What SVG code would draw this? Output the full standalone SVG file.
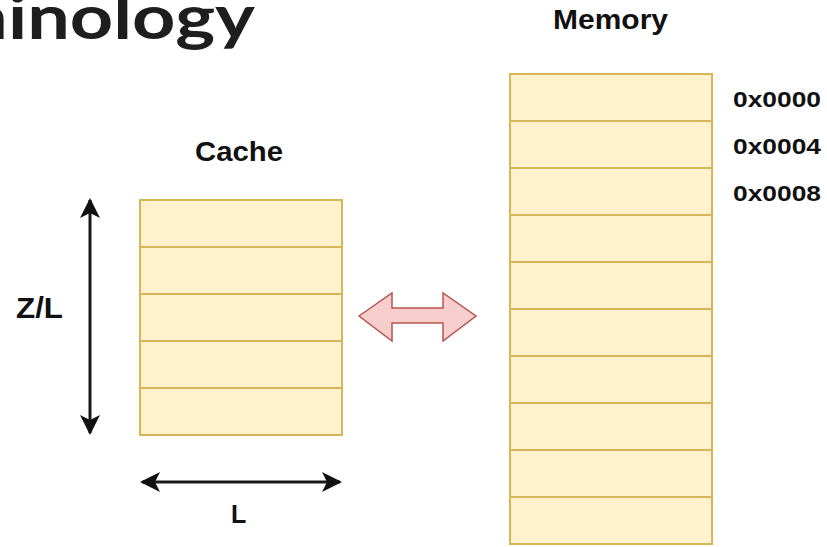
<svg xmlns="http://www.w3.org/2000/svg" width="827" height="547" viewBox="0 0 827 547">
<style>
.lbl{font-family:"Liberation Sans",Arial,sans-serif;font-weight:bold;fill:#111}
.cell{fill:#fff2cc;stroke:#d6b656;stroke-width:2}
.dim{stroke:#1a1a1a;stroke-width:3;fill:none}
</style>
<defs>
<marker id="ah" viewBox="0 0 20 20" refX="18" refY="10" markerWidth="20" markerHeight="20" markerUnits="userSpaceOnUse" orient="auto-start-reverse">
<path d="M0,0 L20,10 L0,20 L5,10 Z" fill="#111"/>
</marker>
</defs>
<rect width="827" height="547" fill="#fff"/>
<g id="title">
<text transform="translate(255,39) scale(1.22,1)" text-anchor="end" style="font-family:Lato,'Open Sans',sans-serif;font-weight:bold" font-size="62" fill="#1e1e1e">Terminology</text>
</g>
<g id="cache">
<text class="lbl" x="195" y="161" font-size="27" textLength="88" lengthAdjust="spacingAndGlyphs">Cache</text>
<rect class="cell" x="140" y="200" width="202" height="47"/>
<rect class="cell" x="140" y="247" width="202" height="47"/>
<rect class="cell" x="140" y="294" width="202" height="47"/>
<rect class="cell" x="140" y="341" width="202" height="47"/>
<rect class="cell" x="140" y="388" width="202" height="47"/>
</g>
<g id="memory">
<text class="lbl" x="553" y="29" font-size="27" textLength="115" lengthAdjust="spacingAndGlyphs">Memory</text>
<rect class="cell" x="510" y="74" width="202" height="47"/>
<rect class="cell" x="510" y="121" width="202" height="47"/>
<rect class="cell" x="510" y="168" width="202" height="47"/>
<rect class="cell" x="510" y="215" width="202" height="47"/>
<rect class="cell" x="510" y="262" width="202" height="47"/>
<rect class="cell" x="510" y="309" width="202" height="47"/>
<rect class="cell" x="510" y="356" width="202" height="47"/>
<rect class="cell" x="510" y="403" width="202" height="47"/>
<rect class="cell" x="510" y="450" width="202" height="47"/>
<rect class="cell" x="510" y="497" width="202" height="47"/>
<text class="lbl" x="733" y="107" font-size="22" textLength="88" lengthAdjust="spacingAndGlyphs">0x0000</text>
<text class="lbl" x="733" y="154" font-size="22" textLength="88" lengthAdjust="spacingAndGlyphs">0x0004</text>
<text class="lbl" x="733" y="201" font-size="22" textLength="88" lengthAdjust="spacingAndGlyphs">0x0008</text>
</g>
<g id="connectors">
<line class="dim" x1="90" y1="200" x2="90" y2="433" marker-start="url(#ah)" marker-end="url(#ah)"/>
<line class="dim" x1="142" y1="482" x2="340" y2="482" marker-start="url(#ah)" marker-end="url(#ah)"/>
<path d="M359,316 L392,293 L392,308 L443,308 L443,293 L476,316 L443,341 L443,323 L392,323 L392,341 Z" fill="#f8cecc" stroke="#b85450" stroke-width="1.5"/>
</g>
<g id="dims">
<text class="lbl" x="16" y="318" font-size="30" textLength="47" lengthAdjust="spacingAndGlyphs">Z/L</text>
<text class="lbl" x="231" y="523" font-size="25">L</text>
</g>
</svg>
